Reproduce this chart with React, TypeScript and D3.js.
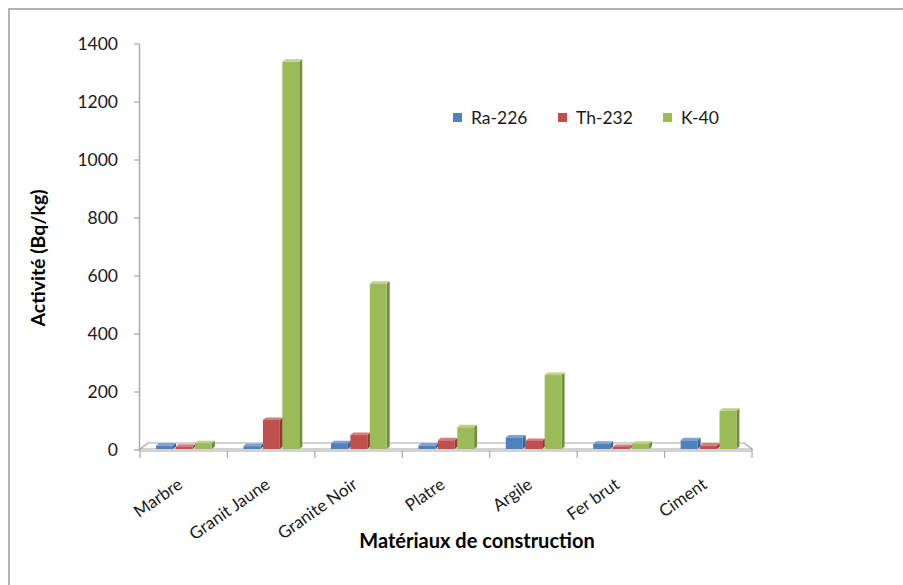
import React from "react";
import * as d3 from "d3";

const categories = ["Marbre", "Granit Jaune", "Granite Noir", "Platre", "Argile", "Fer brut", "Ciment"];
const seriesNames = ["Ra-226", "Th-232", "K-40"];
const ra226 = [12, 10, 20, 12, 40, 18, 30];
const th232 = [8, 100, 48, 30, 28, 7, 12];
const k40 = [20, 1335, 570, 75, 255, 18, 132];
const yTicks = [0, 200, 400, 600, 800, 1000, 1200, 1400];

const seriesValues = [ra226, th232, k40];
const frontColors = ["#4F81BD", "#C0504D", "#9BBB59"];
const sideColors = ["#3A6296", "#8E3B38", "#738C40"];
const topColors = ["#7FA2D3", "#D47E7B", "#BAD486"];

const W = 903;
const H = 585;
const FONT = "Lato, 'Open Sans', sans-serif";

export default function App() {
  const x0 = d3.scaleBand<string>().domain(categories).range([140, 752]).paddingInner(0).paddingOuter(0);
  const x1 = d3
    .scaleBand<string>()
    .domain(seriesNames)
    .range([0, x0.bandwidth()])
    .paddingInner(0)
    .paddingOuter(0.75);
  const y = d3.scaleLinear().domain([0, 1400]).range([450, 44]);

  const base = y(0) - 1;
  const dx = 3;
  const dy = 2.5;
  const floorDx = 8;
  const floorDy = 7;
  const axisGray = "#a6a6a6";

  const bars: React.ReactNode[] = [];
  categories.forEach((cat, ci) => {
    seriesNames.forEach((s, si) => {
      const v = seriesValues[si][ci];
      const left = (x0(cat) as number) + (x1(s) as number) + 1.5;
      const w = x1.bandwidth() - dx + 0.5;
      const top = y(v) - 1;
      const right = left + w;
      bars.push(
        <g key={`${ci}-${si}`}>
          <polygon
            points={`${right},${top} ${right + dx},${top - dy} ${right + dx},${base - dy} ${right},${base}`}
            fill={sideColors[si]}
          />
          <polygon
            points={`${left},${top} ${left + dx},${top - dy} ${right + dx},${top - dy} ${right},${top}`}
            fill={topColors[si]}
          />
          <rect x={left} y={top} width={w} height={Math.max(0, base - top)} fill={frontColors[si]} />
        </g>
      );
    });
  });

  const x0Left = 140;
  const x0Right = 752;
  const floorY = y(0);

  const legendX = [453, 558, 663];

  return (
    <div style={{ position: "absolute", left: 0, top: 0, width: W, height: H, background: "#fff" }}>
      <svg width={W} height={H} style={{ display: "block" }} fontFamily={FONT}>
        <rect x={0} y={0} width={W} height={H} fill="#fff" />
        {/* chart frame */}
        <rect x={9} y={9} width={W + 50} height={H + 50} fill="none" stroke="#a0a0a0" strokeWidth={1.6} />

        {/* floor */}
        <polygon
          points={`${x0Left},${floorY - 1} ${x0Left + floorDx},${floorY - floorDy} ${x0Right - floorDx},${floorY - floorDy} ${x0Right},${floorY - 1}`}
          fill="#fff"
          stroke={axisGray}
          strokeWidth={1.2}
        />
        <line x1={x0Left} x2={x0Right} y1={floorY + 1} y2={floorY + 1} stroke={axisGray} strokeWidth={1.2} />
        <line x1={x0Right} x2={x0Right} y1={floorY - 1} y2={floorY + 1} stroke={axisGray} strokeWidth={1.2} />

        {/* x axis ticks at category boundaries */}
        {categories.map((c) => (
          <line
            key={`xt-${c}`}
            x1={x0(c) as number}
            x2={x0(c) as number}
            y1={floorY + 1}
            y2={floorY + 8}
            stroke={axisGray}
            strokeWidth={1.2}
          />
        ))}
        <line x1={x0Right} x2={x0Right} y1={floorY + 1} y2={floorY + 8} stroke={axisGray} strokeWidth={1.2} />

        {/* y axis */}
        <line x1={139.5} x2={139.5} y1={y(1400)} y2={floorY + 1} stroke={axisGray} strokeWidth={1.4} />
        {yTicks.map((t) => (
          <g key={`yt-${t}`}>
            <line x1={134} x2={139.5} y1={y(t)} y2={y(t)} stroke={axisGray} strokeWidth={1.2} />
            <text x={118} y={y(t)} dy="0.36em" textAnchor="end" fontSize={17.5} fill="#1a1a1a">
              {t}
            </text>
          </g>
        ))}

        {bars}

        {/* category labels */}
        {categories.map((c) => {
          const cx = (x0(c) as number) + x0.bandwidth() / 2;
          const cy = 487;
          return (
            <text
              key={`cl-${c}`}
              x={cx}
              y={cy}
              textAnchor="end"
              fontSize={17}
              fill="#1a1a1a"
              transform={`rotate(-35, ${cx}, ${cy})`}
            >
              {c}
            </text>
          );
        })}

        {/* axis titles */}
        <text x={477} y={548} textAnchor="middle" fontSize={20} fontWeight="bold" fill="#000">
          Matériaux de construction
        </text>
        <text
          x={45}
          y={258}
          textAnchor="middle"
          fontSize={19.5}
          fontWeight="bold"
          fill="#000"
          transform="rotate(-90, 45, 258)"
        >
          Activité (Bq/kg)
        </text>

        {/* legend */}
        {seriesNames.map((s, i) => (
          <g key={`lg-${s}`}>
            <rect x={legendX[i]} y={113} width={9} height={9} fill={frontColors[i]} />
            <text x={legendX[i] + 18} y={118} dy="0.36em" fontSize={17.5} fill="#1a1a1a">
              {s}
            </text>
          </g>
        ))}
      </svg>
    </div>
  );
}
